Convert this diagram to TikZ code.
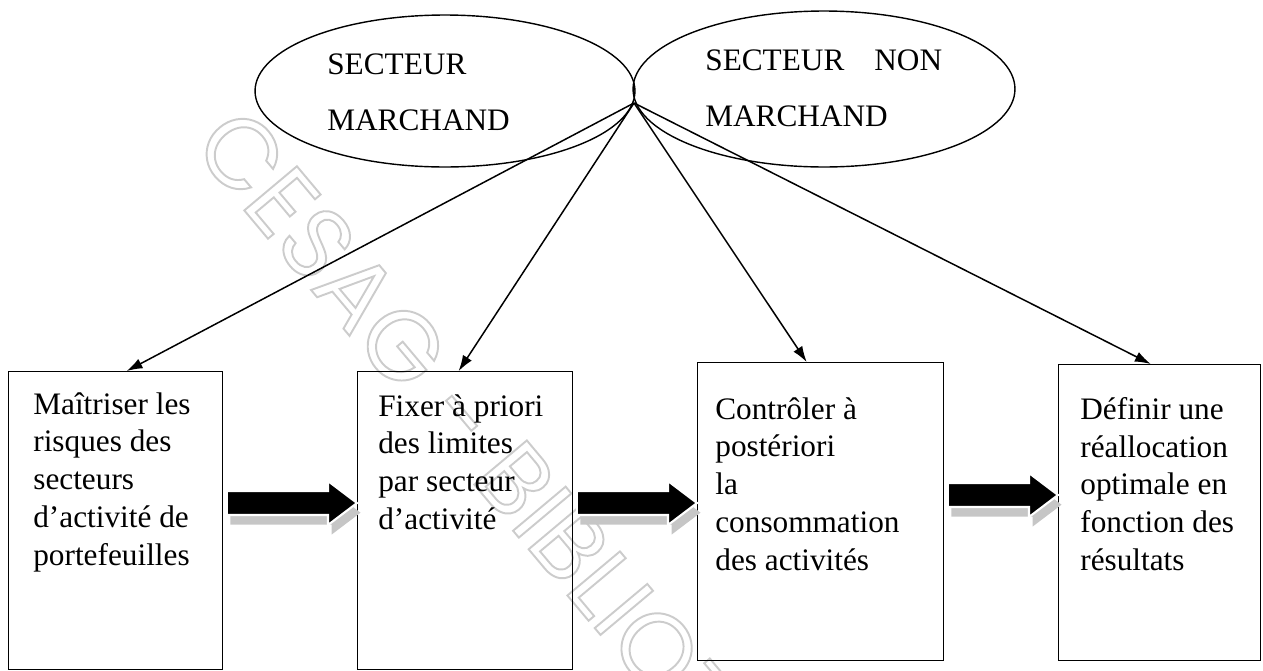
\documentclass[tikz,border=0pt]{standalone}
\usepackage{fontspec}
\setmainfont{Liberation Serif}
\newfontfamily\wmfont{Poppins}
\usetikzlibrary{shapes.geometric,arrows.meta,calc}

\tikzset{
  secteur/.style={draw, ellipse, line width=0.8pt, inner sep=0pt},
  secteurtxt/.style={align=left, inner sep=0pt, anchor=north west, font=\fontsize{17.8}{31.9}\selectfont},
  etape/.style={draw, rectangle, line width=0.8pt, inner sep=0pt, anchor=north west},
  etapetxt/.style={align=left, inner sep=0pt, anchor=north west, font=\fontsize{17.8}{21.5}\selectfont},
  lien/.style={-{Latex[length=9pt,width=6pt]}, line width=0.85pt},
}

% grosse fleche noire avec ombre
\newcommand{\grossefleche}[2]{%
  \fill[gray!45] let \p1=(#1), \p2=(#2) in
    (\x1+4pt,\y1+1.3pt) -- (\x2-14.5pt,\y1+1.3pt) -- (\x2-14.5pt,\y1+7pt) -- (\x2+2pt,\y1-5.5pt)
    -- (\x2-14.5pt,\y1-18pt) -- (\x2-14.5pt,\y1-12.3pt) -- (\x1+4pt,\y1-12.3pt) -- cycle;
  \filldraw[fill=black, draw=white, line width=1.2pt] let \p1=(#1), \p2=(#2) in
    (\x1+2pt,\y1+6.8pt) -- (\x2-16.5pt,\y1+6.8pt) -- (\x2-16.5pt,\y1+12.5pt) -- (\x2,\y1)
    -- (\x2-16.5pt,\y1-12.5pt) -- (\x2-16.5pt,\y1-6.8pt) -- (\x1+2pt,\y1-6.8pt) -- cycle;
}

\begin{document}
\begin{tikzpicture}[x=0.02cm,y=-0.02cm]
\useasboundingbox (0,0) rectangle (1263,670);

% filigrane
\node[rotate=-50, anchor=west, inner sep=0pt, text=gray!40, font=\wmfont\fontsize{56}{56}\selectfont] (wm) at (212,128)
  {\special{pdf:literal direct 1 Tr 1.1 w}CESAG - BIBLIOTHEQUE\special{pdf:literal direct 0 Tr}};

% secteurs
\node[secteur, minimum width=7.6cm, minimum height=3.04cm] (sm) at (445,91) {};
\node[secteur, minimum width=7.64cm, minimum height=3.12cm] (snm) at (824,89) {};
\node[secteurtxt] (tsm) at (327,53) {SECTEUR\\MARCHAND};
\node[secteurtxt] (tsnm) at (705,49) {SECTEUR\hspace{0.6cm}NON\\MARCHAND};
\coordinate (hub) at (634,103);

% etapes
\node[etape, minimum width=4.28cm, minimum height=5.96cm] (b1) at (8,371) {};
\node[etape, minimum width=4.30cm, minimum height=5.96cm] (b2) at (357,371) {};
\node[etape, minimum width=4.92cm, minimum height=5.96cm] (b3) at (697,362) {};
\node[etape, minimum width=4.04cm, minimum height=5.92cm] (b4) at (1058,364) {};

\node[etapetxt] (t1) at (33,392) {Maîtriser les\\risques des\\secteurs\\d’activité de\\portefeuilles};
\node[etapetxt] (t2) at (378,394) {Fixer à priori\\des limites\\par secteur\\d’activité};
\node[etapetxt] (t3) at (715,397) {Contrôler à\\postériori\\la\\consommation\\des activités};
\node[etapetxt] (t4) at (1080,397) {Définir une\\réallocation\\optimale en\\fonction des\\résultats};

\draw[lien] (hub) -- ([xshift=0.22cm]b1.north);
\draw[lien] (hub) -- ([xshift=-0.13cm]b2.north);
\draw[lien] (hub) -- ([xshift=-0.28cm]b3.north);
\draw[lien] (hub) -- ([xshift=-0.18cm]b4.north);

\grossefleche{b1.east |- 0,503}{b2.west |- 0,503}
\grossefleche{b2.east |- 0,503}{b3.west |- 0,503}
\grossefleche{b3.east |- 0,495}{b4.west |- 0,495}
\end{tikzpicture}
\end{document}
